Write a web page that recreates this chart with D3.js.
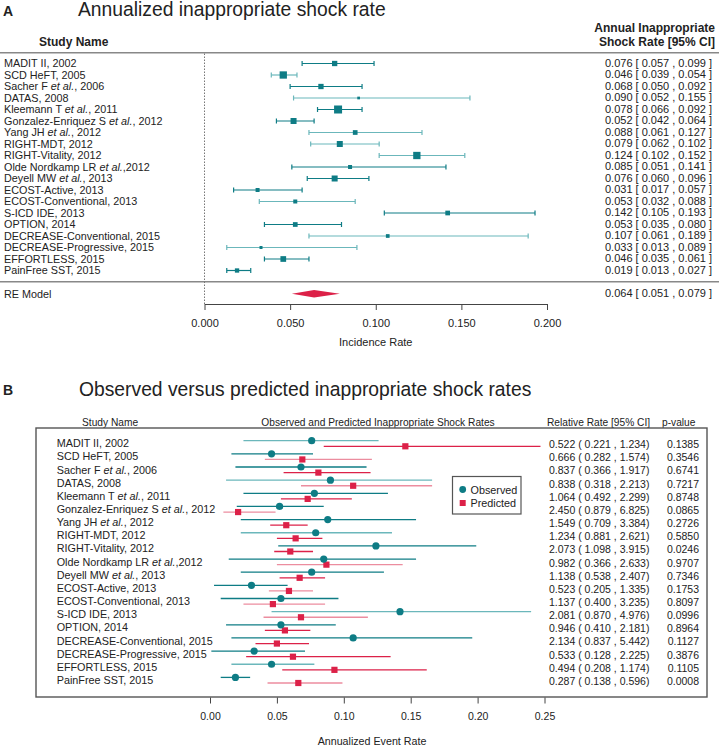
<!DOCTYPE html>
<html><head><meta charset="utf-8">
<script src="https://cdn.jsdelivr.net/npm/d3@7/dist/d3.min.js"></script>
<style>
body{margin:0;background:#fff;}
text{font-family:"Liberation Sans",Arial,Helvetica,sans-serif;fill:#222;}
</style></head>
<body><svg id="c" width="719" height="745"></svg>
<script>
// ---------- DATA ----------
const studies = ["MADIT II, 2002","SCD HeFT, 2005","Sacher F et al., 2006","DATAS, 2008","Kleemann T et al., 2011",
 "Gonzalez-Enriquez S et al., 2012","Yang JH et al., 2012","RIGHT-MDT, 2012","RIGHT-Vitality, 2012",
 "Olde Nordkamp LR et al.,2012","Deyell MW et al., 2013","ECOST-Active, 2013","ECOST-Conventional, 2013",
 "S-ICD IDE, 2013","OPTION, 2014","DECREASE-Conventional, 2015","DECREASE-Progressive, 2015","EFFORTLESS, 2015","PainFree SST, 2015"];
// Panel A: annualized inappropriate shock rate [95% CI]
const rate  = [0.076,0.046,0.068,0.090,0.078,0.052,0.088,0.079,0.124,0.085,0.076,0.031,0.053,0.142,0.053,0.107,0.033,0.046,0.019];
const lower = [0.057,0.039,0.050,0.052,0.066,0.042,0.061,0.062,0.102,0.051,0.060,0.017,0.032,0.105,0.035,0.061,0.013,0.035,0.013];
const upper = [0.099,0.054,0.092,0.155,0.092,0.064,0.127,0.102,0.152,0.141,0.096,0.057,0.088,0.193,0.080,0.189,0.089,0.061,0.027];
const weightA = [5.3,7.3,5.3,2.7,8,6,4.7,6,7.3,4,6,4,4,4.7,4.7,3.7,3,5.7,4.3];
const reModel = {est:0.064, lo:0.051, hi:0.079};
const ticksA = [0,0.05,0.1,0.15,0.2];
// Panel B: observed vs predicted
const obsLo  = [0.025,0.016,0.019,0.012,0.025,0.020,0.023,0.023,0.051,0.014,0.023,0.003,0.008,0.046,0.012,0.016,0.001,0.016,0.008];
const obsHi  = [0.126,0.077,0.117,0.166,0.133,0.085,0.154,0.136,0.199,0.154,0.130,0.058,0.096,0.240,0.094,0.196,0.071,0.078,0.030];
const pred   = [0.146,0.069,0.081,0.107,0.073,0.021,0.057,0.064,0.060,0.087,0.067,0.059,0.047,0.068,0.056,0.050,0.062,0.093,0.066];
const predLo = [0.085,0.041,0.055,0.068,0.053,0.010,0.045,0.050,0.048,0.050,0.052,0.044,0.025,0.040,0.041,0.034,0.027,0.054,0.043];
const predHi = [0.247,0.121,0.120,0.166,0.106,0.049,0.073,0.084,0.077,0.144,0.086,0.077,0.086,0.118,0.075,0.074,0.135,0.162,0.099];
const rr   = [0.522,0.666,0.837,0.838,1.064,2.450,1.549,1.234,2.073,0.982,1.138,0.523,1.137,2.081,0.946,2.134,0.533,0.494,0.287];
const rrLo = [0.221,0.282,0.366,0.318,0.492,0.879,0.709,0.881,1.098,0.366,0.538,0.205,0.400,0.870,0.410,0.837,0.128,0.208,0.138];
const rrHi = [1.234,1.574,1.917,2.213,2.299,6.825,3.384,2.621,3.915,2.633,2.407,1.335,3.235,4.976,2.181,5.442,2.225,1.174,0.596];
const pval = ["0.1385","0.3546","0.6741","0.7217","0.8748","0.0865","0.2726","0.5850","0.0246","0.9707","0.7346","0.1753","0.8097","0.0996","0.8964","0.1127","0.3876","0.1105","0.0008"];
const ticksB = [0,0.05,0.1,0.15,0.2,0.25];

// ---------- STYLE ----------
const TEAL="#0e7c85", TEAL_L="#6bb7bb", RED="#dc2148", RED_L="#ec8d9f";
const lightA = new Set([1,3,6,7,8,12,15,16]);
const lightObs = new Set([0,3,7,13,17]);
const lightPred = new Set([1,3,5,9,11,12,13,18]);

const svg = d3.select("#c");
const f3 = d3.format(".3f");

function nameText(g, s, x, y, size){
  const t = g.append("text").attr("x",x).attr("y",y).attr("dy","0.35em").style("font-size",size+"px");
  const parts = s.split("et al.");
  if(parts.length>1){
    t.append("tspan").text(parts[0]);
    t.append("tspan").style("font-style","italic").text("et al.");
    t.append("tspan").text(parts[1]);
  } else t.text(s);
}

// ================= PANEL A =================
const xA = d3.scaleLinear().domain([0,0.2]).range([204.5,547]);
const yA = d3.scaleLinear().domain([0,18]).range([63.5,270.5]);
const sizeA = d3.scaleLinear().domain([0,8]).range([0,8]);
const gA = svg.append("g");

gA.append("text").attr("x",3).attr("y",15.5).style("font-size","14px").style("font-weight","bold").text("A");
gA.append("text").attr("x",78).attr("y",15.5).style("font-size","19.3px").text("Annualized inappropriate shock rate");
gA.append("text").attr("x",39).attr("y",46).style("font-size","12px").style("font-weight","bold").text("Study Name");
gA.append("text").attr("x",715).attr("y",32).attr("text-anchor","end").style("font-size","12px").style("font-weight","bold").text("Annual Inappropriate");
gA.append("text").attr("x",715).attr("y",46).attr("text-anchor","end").style("font-size","12px").style("font-weight","bold").text("Shock Rate [95% CI]");
gA.append("line").attr("x1",0).attr("x2",719).attr("y1",52.7).attr("y2",52.7).attr("stroke","#888").attr("stroke-width",1.6);
gA.append("line").attr("x1",0).attr("x2",719).attr("y1",281.7).attr("y2",281.7).attr("stroke","#888").attr("stroke-width",1.6);
gA.append("line").attr("x1",xA(0)).attr("x2",xA(0)).attr("y1",53.5).attr("y2",304)
  .attr("stroke","#777").attr("stroke-width",1).attr("stroke-dasharray","1.5,1.5");

studies.forEach((s,i)=>{
  const y=yA(i);
  nameText(gA,s,4,y,10.8);
  const c = lightA.has(i)?TEAL_L:TEAL;
  gA.append("line").attr("x1",xA(lower[i])).attr("x2",xA(upper[i])).attr("y1",y).attr("y2",y).attr("stroke",c).attr("stroke-width",1.2);
  [lower[i],upper[i]].forEach(v=>gA.append("line").attr("x1",xA(v)).attr("x2",xA(v)).attr("y1",y-2.5).attr("y2",y+2.5).attr("stroke",c).attr("stroke-width",1.2));
  const sz=sizeA(weightA[i]);
  gA.append("rect").attr("x",xA(rate[i])-sz/2).attr("y",y-sz/2).attr("width",sz).attr("height",sz).attr("fill",TEAL);
  gA.append("text").attr("x",712).attr("y",y-0.8).attr("dy","0.35em").attr("text-anchor","end").style("font-size","11px")
    .text(`${f3(rate[i])} [ ${f3(lower[i])} , ${f3(upper[i])} ]`);
});
const yRE=293.8;
gA.append("text").attr("x",4).attr("y",yRE).attr("dy","0.35em").style("font-size","10.8px").text("RE Model");
gA.append("path").attr("d",`M${xA(reModel.lo)},${yRE} L${xA(reModel.est)},${yRE-3.8} L${xA(reModel.hi)},${yRE} L${xA(reModel.est)},${yRE+3.8} Z`).attr("fill",RED);
gA.append("text").attr("x",712).attr("y",yRE-0.8).attr("dy","0.35em").attr("text-anchor","end").style("font-size","11px")
  .text(`${f3(reModel.est)} [ ${f3(reModel.lo)} , ${f3(reModel.hi)} ]`);
const axA = gA.append("g").attr("transform","translate(0,304)")
  .call(d3.axisBottom(xA).tickValues(ticksA).tickFormat(d3.format(".3f")).tickSize(6).tickSizeOuter(0).tickPadding(9));
axA.select(".domain").attr("stroke","#444");
axA.selectAll(".tick line").attr("stroke","#444");
axA.selectAll("text").style("font-size","11px").style("font-family","Liberation Sans, Arial, sans-serif").attr("fill","#222");
gA.append("text").attr("x",(xA(0)+xA(0.2))/2).attr("y",346).attr("text-anchor","middle").style("font-size","11px").text("Incidence Rate");

// ================= PANEL B =================
const xB = d3.scaleLinear().domain([0,0.25]).range([210,544.5]);
const yB = d3.scaleLinear().domain([0,18]).range([443.5,680.2]);
const gB = svg.append("g");
gB.append("text").attr("x",3).attr("y",395).style("font-size","14px").style("font-weight","bold").text("B");
gB.append("text").attr("x",79).attr("y",396).style("font-size","19.3px").text("Observed versus predicted inappropriate shock rates");
const hdr=[["Study Name",82,"start"],["Observed and Predicted Inappropriate Shock Rates",378,"middle"],["Relative Rate [95% CI]",547,"start"],["p-value",662,"start"]];
hdr.forEach(h=>gB.append("text").attr("x",h[1]).attr("y",425.5).attr("text-anchor",h[2]).style("font-size","10.2px").text(h[0]));
gB.append("rect").attr("x",36).attr("y",428).attr("width",671).attr("height",269).attr("fill","none").attr("stroke","#555").attr("stroke-width",1.4);

studies.forEach((s,i)=>{
  const y=yB(i), yo=y-2.8, yp=y+2.8;
  nameText(gB,s,56.7,y,10.8);
  gB.append("line").attr("x1",xB(obsLo[i])).attr("x2",xB(obsHi[i])).attr("y1",yo).attr("y2",yo)
    .attr("stroke",lightObs.has(i)?TEAL_L:TEAL).attr("stroke-width",1.3);
  gB.append("line").attr("x1",xB(predLo[i])).attr("x2",xB(predHi[i])).attr("y1",yp).attr("y2",yp)
    .attr("stroke",lightPred.has(i)?RED_L:RED).attr("stroke-width",1.3);
  gB.append("rect").attr("x",xB(pred[i])-3.1).attr("y",yp-3.1).attr("width",6.2).attr("height",6.2).attr("fill",RED);
  gB.append("circle").attr("cx",xB(rate[i])).attr("cy",yo).attr("r",3.6).attr("fill",TEAL);
  gB.append("text").attr("x",549).attr("y",y+1).attr("dy","0.35em").style("font-size","10.5px")
    .text(`${f3(rr[i])} ( ${f3(rrLo[i])} , ${f3(rrHi[i])})`);
  gB.append("text").attr("x",699).attr("y",y+1).attr("dy","0.35em").attr("text-anchor","end").style("font-size","10.5px").text(pval[i]);
});
// legend
gB.append("rect").attr("x",452.5).attr("y",476.5).attr("width",68.5).attr("height",37.5).attr("fill","#fff").attr("stroke","#555").attr("stroke-width",1.2);
gB.append("circle").attr("cx",462.7).attr("cy",489.5).attr("r",3.4).attr("fill",TEAL);
gB.append("text").attr("x",470.5).attr("y",489.8).attr("dy","0.35em").style("font-size","10.8px").text("Observed");
gB.append("rect").attr("x",459.7).attr("y",500).attr("width",6).attr("height",6).attr("fill",RED);
gB.append("text").attr("x",470.5).attr("y",503).attr("dy","0.35em").style("font-size","10.8px").text("Predicted");
// axis
const axB = gB.append("g").attr("transform","translate(0,697.5)")
  .call(d3.axisBottom(xB).tickValues(ticksB).tickFormat(d3.format(".2f")).tickSize(6).tickSizeOuter(0).tickPadding(9));
axB.select(".domain").remove();
axB.selectAll(".tick line").attr("stroke","#444");
axB.selectAll("text").style("font-size","10.5px").style("font-family","Liberation Sans, Arial, sans-serif").attr("fill","#222");
gB.append("text").attr("x",372).attr("y",744.5).attr("text-anchor","middle").style("font-size","10.7px").text("Annualized Event Rate");
</script></body></html>
